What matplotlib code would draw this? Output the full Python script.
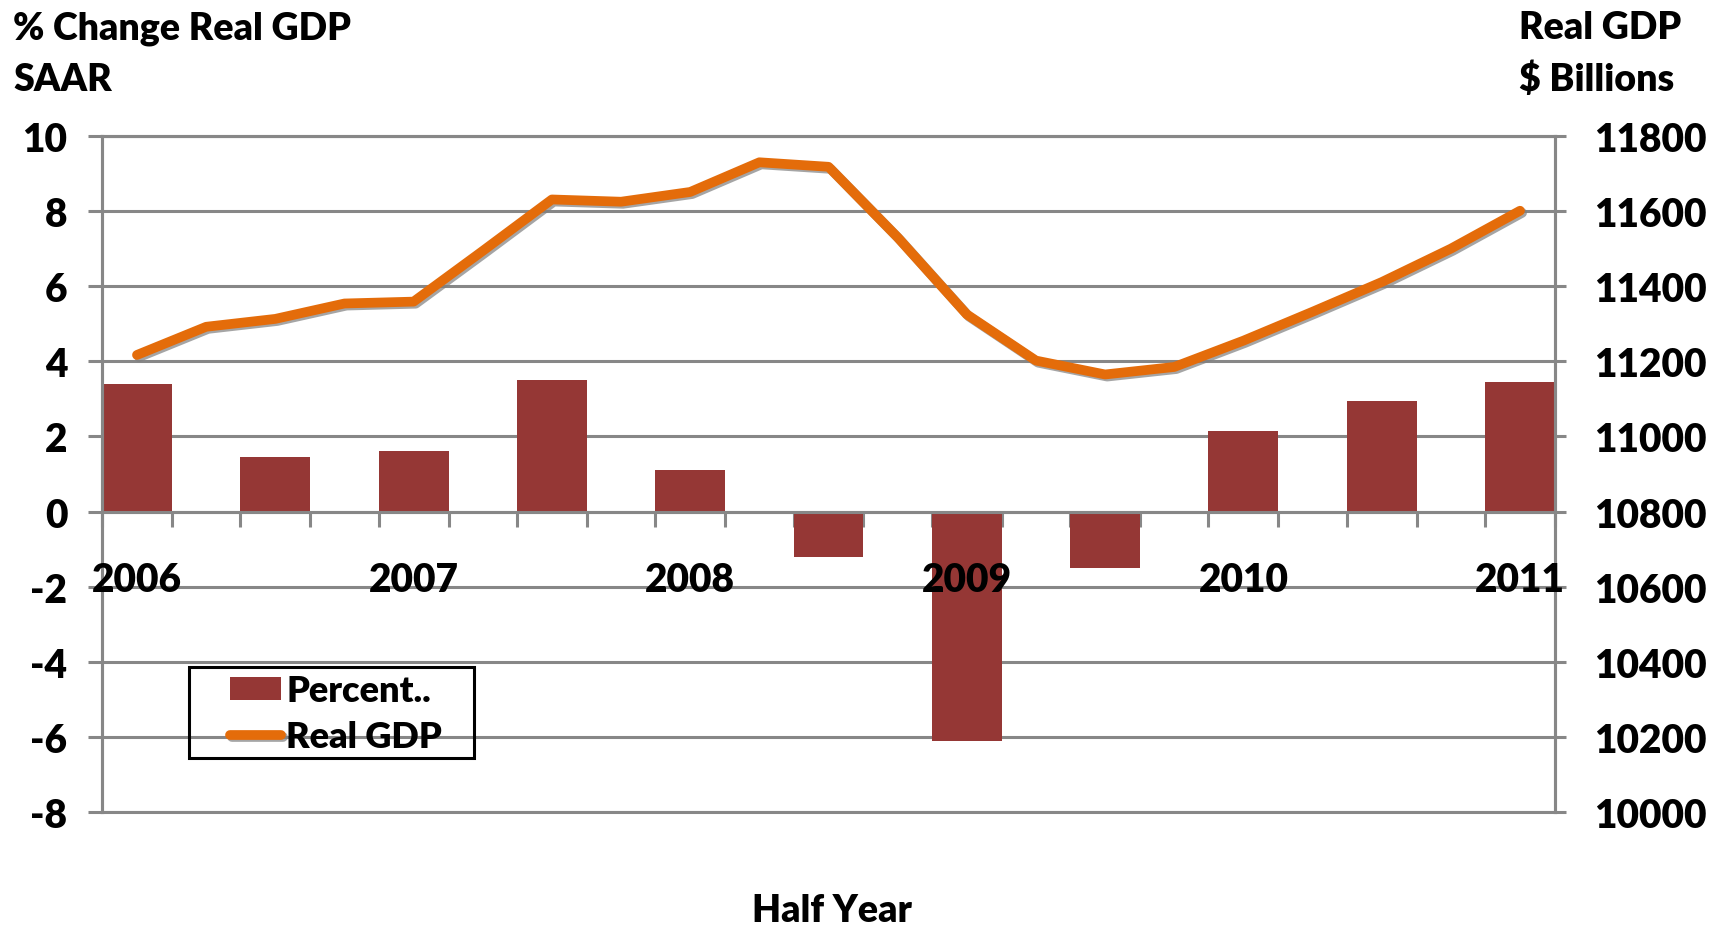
import matplotlib
matplotlib.use("Agg")
import matplotlib.pyplot as plt
import matplotlib.patheffects as pe
from matplotlib.patches import Rectangle
import numpy as np

plt.rcParams["font.family"] = ["Lato", "DejaVu Sans"]
plt.rcParams["font.weight"] = "heavy"
plt.rcParams["axes.unicode_minus"] = False

# half-year growth (SAAR) and quarterly real GDP level
years = ["2006", "2007", "2008", "2009", "2010", "2011"]
pct_change = [3.4, 1.45, 1.6, 3.5, 1.1, -1.2, -6.1, -1.5, 2.15, 2.95, 3.45]
real_gdp = [11217, 11292, 11313, 11354, 11359, 11494, 11631, 11625, 11651,
            11730, 11718, 11530, 11325, 11202, 11165, 11185, 11255, 11332,
            11411, 11500, 11601]

bar_color = "#953735"
line_color = "#E46C0A"
grid_color = "#878787"
W_TXT = "heavy"

W, H = 1717, 929
fig = plt.figure(figsize=(W / 100, H / 100), dpi=100)
ax = fig.add_axes([102 / W, 1 - 813 / H, 1453 / W, 676 / H])
ax2 = ax.twinx()

# bars sit on every second quarter
x_bar = np.arange(len(pct_change)) * 2
x_line = np.arange(len(real_gdp))
half_w = 0.506

bars = ax.bar(x_bar, pct_change, width=2 * half_w, color=bar_color,
              zorder=2, label="Percent..")
line, = ax2.plot(x_line, real_gdp, color=line_color, lw=7,
                 solid_capstyle="round", solid_joinstyle="round",
                 label="Real GDP",
                 path_effects=[pe.SimpleLineShadow(offset=(1.5, -1.5),
                                                   shadow_color="#7f7f7f",
                                                   alpha=0.7),
                               pe.Normal()])

ax.set_xlim(-half_w, x_line[-1] + half_w)
ax.set_ylim(-8, 10)
ax.set_yticks(np.arange(-8, 11, 2))
ax2.set_ylim(10000, 11800)
ax2.set_yticks(np.arange(10000, 11801, 200))

ax.set_axisbelow(True)
ax.yaxis.grid(True, color=grid_color, lw=2.2)

# category axis crosses at zero, ticks at the bar edges
edges = np.sort(np.concatenate([x_bar - half_w, x_bar + half_w]))
ax.spines["bottom"].set_position(("data", 0))
ax.set_xticks(edges)
ax.set_xticklabels([])
ax.tick_params(axis="x", direction="out", length=11, width=2.2,
               color=grid_color)

for a in (ax, ax2):
    for s in a.spines.values():
        s.set_color(grid_color)
        s.set_linewidth(2.2)
ax2.spines["bottom"].set_visible(True)

ax.tick_params(axis="y", direction="out", length=10, width=2.2,
               color=grid_color, labelsize=28, pad=15)
ax2.tick_params(axis="y", direction="out", length=8, width=2.2,
                color=grid_color, labelsize=28, pad=20)
for lbl in ax.get_yticklabels() + ax2.get_yticklabels():
    lbl.set_fontweight(W_TXT)

# year labels go on the top axes so the right spine stays underneath
for i, yr in enumerate(years):
    ax2.text(x_bar[2 * i], -1.8, yr, transform=ax.transData,
             ha="center", va="center", fontsize=28, fontweight=W_TXT,
             zorder=5)

fig.text(13 / W, 1 - 39 / H, "% Change Real GDP", fontsize=27,
         fontweight=W_TXT, va="baseline")
fig.text(13 / W, 1 - 91 / H, "SAAR", fontsize=27,
         fontweight=W_TXT, va="baseline")
fig.text(1519 / W, 1 - 39 / H, "Real GDP", fontsize=27,
         fontweight=W_TXT, va="baseline")
fig.text(1519 / W, 1 - 91 / H, "$ Billions", fontsize=27,
         fontweight=W_TXT, va="baseline")
fig.text(832 / W, 1 - 911 / H, "Half Year", fontsize=27,
         fontweight=W_TXT, ha="center", va="center")

# legend entries without a frame, boxed by a plain black rectangle
leg = ax2.legend([bars, line], ["Percent..", "Real GDP"],
                 loc="upper left", bbox_to_anchor=(0.0881, 0.2035),
                 borderaxespad=0, borderpad=0, fontsize=26,
                 handlelength=1.41, handleheight=0.6, handletextpad=0.15,
                 labelspacing=0.35, frameon=False)
for t in leg.get_texts():
    t.set_fontweight(W_TXT)
ax2.add_patch(Rectangle((0.0599, 0.0799), 0.1961, 0.1346,
                        transform=ax2.transAxes, fill=False,
                        edgecolor="black", lw=2.2, clip_on=False,
                        zorder=6))

fig.savefig("out.png", dpi=100)
